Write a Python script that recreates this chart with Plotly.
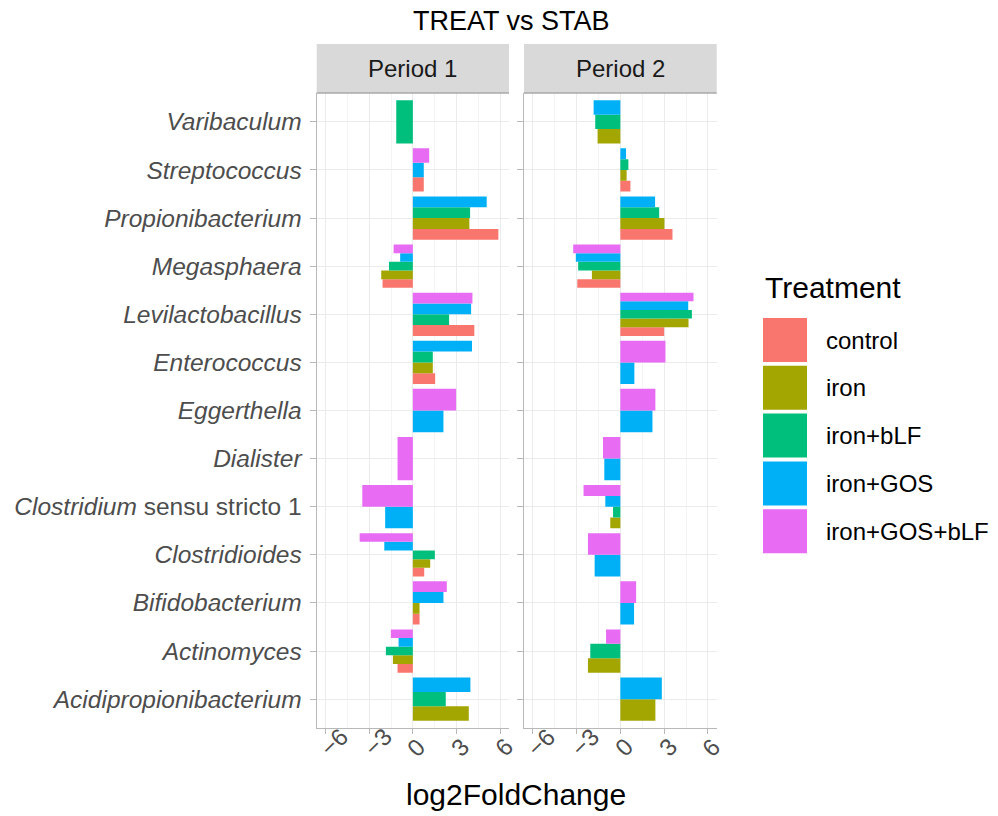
import plotly.graph_objects as go

# Genera from bottom to top of the y axis
genera = [
    "Acidipropionibacterium", "Actinomyces", "Bifidobacterium", "Clostridioides",
    "Clostridium sensu stricto 1", "Dialister", "Eggerthella", "Enterococcus",
    "Levilactobacillus", "Megasphaera", "Propionibacterium", "Streptococcus",
    "Varibaculum",
]
treatments = ["control", "iron", "iron+bLF", "iron+GOS", "iron+GOS+bLF"]
colors = ["#F8766D", "#A3A500", "#00BF7D", "#00B0F6", "#E76BF3"]
periods = ["Period 1", "Period 2"]
x_ticks = [-6, -3, 0, 3, 6]

# log2 fold changes (TREAT vs STAB), None = not significant / absent
p1_control      = [None, -1.05, 0.46, 0.78, None, None, None, 1.53, 4.22, -2.08, 5.87, 0.75, None]
p1_iron         = [3.84, -1.37, 0.46, 1.19, None, None, None, 1.37, None, -2.17, 3.88, None, None]
p1_iron_blf     = [2.26, -1.85, None, 1.51, None, None, None, 1.37, 2.49, -1.64, 3.93, None, -1.14]
p1_iron_gos     = [3.95, -0.98, 2.10, -1.96, -1.90, None, 2.10, 4.06, 4.00, -0.87, 5.07, 0.75, None]
p1_iron_gos_blf = [None, -1.51, 2.33, -3.65, -3.47, -1.05, 2.97, None, 4.09, -1.32, None, 1.12, None]

p2_control      = [None, None, None, None, None, None, None, None, 3.00, -2.95, 3.57, 0.69, None]
p2_iron         = [2.40, -2.22, None, None, -0.69, None, None, None, 4.67, -1.95, 3.02, 0.43, -1.56]
p2_iron_blf     = [None, -2.06, None, None, -0.50, None, None, None, 4.90, -2.89, 2.66, 0.55, -1.72]
p2_iron_gos     = [2.84, None, 0.94, -1.76, -1.03, -1.10, 2.20, 0.96, 4.65, -3.05, 2.38, 0.39, -1.83]
p2_iron_gos_blf = [None, -0.98, 1.08, -2.22, -2.52, -1.19, 2.40, 3.09, 5.01, -3.23, None, None, None]

period_values = [
    [p1_control, p1_iron, p1_iron_blf, p1_iron_gos, p1_iron_gos_blf],
    [p2_control, p2_iron, p2_iron_blf, p2_iron_gos, p2_iron_gos_blf],
]


def genus_label(name):
    if name.endswith("sensu stricto 1"):
        head, tail = name.split(" ", 1)
        return f"<i>{head}</i> {tail}"
    return f"<i>{name}</i>"


FONT = "Liberation Sans, Arial, sans-serif"
W, H = 998, 816
DODGE = 0.9

fig = go.Figure()

# Dodged bars: within each genus the bars present share the full dodge width
for p, series in enumerate(period_values):
    counts = [sum(v[i] is not None for v in series) for i in range(len(genera))]
    slot = [0] * len(genera)
    for t, vals in enumerate(series):
        ys, xs, offs, wids = [], [], [], []
        for i, v in enumerate(vals):
            if v is None:
                continue
            w = DODGE / counts[i]
            ys.append(genera[i])
            xs.append(v)
            offs.append(-DODGE / 2 + slot[i] * w)
            wids.append(w)
            slot[i] += 1
        fig.add_trace(go.Bar(
            x=xs, y=ys, orientation="h", offset=offs, width=wids,
            marker=dict(color=colors[t], line=dict(width=0)),
            name=treatments[t], showlegend=False,
            xaxis="x" if p == 0 else "x2", yaxis="y" if p == 0 else "y2",
        ))

# Panel geometry (pixels)
pan_x = [(316.7, 509.0), (524.0, 716.7)]
pan_top, pan_bot = 93.0, 728.0
strip_top = 44.0


def px(x):
    return x / W


def py(y):
    return 1 - y / H


GRID = "#EBEBEB"
LINE = "#B8B8B8"
axis_common = dict(
    range=[-6.6, 6.6], tickvals=x_ticks, showticklabels=False,
    ticks="outside", ticklen=5, tickwidth=1.3, tickcolor=LINE,
    showline=True, linecolor=LINE, linewidth=1.3, zeroline=False,
    showgrid=True, gridcolor=GRID, gridwidth=1,
    minor=dict(dtick=1.5, tick0=0, showgrid=True, gridcolor="#F4F4F4", gridwidth=1),
    fixedrange=True,
)
yaxis_common = dict(
    type="category", categoryorder="array", categoryarray=genera,
    range=[-0.6, len(genera) - 0.4],
    ticks="outside", ticklen=6, tickwidth=1.3, tickcolor=LINE,
    showline=True, linecolor=LINE, linewidth=1.3,
    showgrid=True, gridcolor=GRID, gridwidth=1, zeroline=False,
    domain=[py(pan_bot), py(pan_top)],
)

fig.update_layout(
    width=W, height=H, margin=dict(l=0, r=0, t=0, b=0),
    paper_bgcolor="white", plot_bgcolor="white",
    barmode="overlay", showlegend=False,
    font=dict(family=FONT, color="#4D4D4D"),
    xaxis=dict(domain=[px(pan_x[0][0]), px(pan_x[0][1])], anchor="y", **axis_common),
    xaxis2=dict(domain=[px(pan_x[1][0]), px(pan_x[1][1])], anchor="y2", **axis_common),
    yaxis=dict(anchor="x", tickvals=genera, ticktext=[genus_label(g) for g in genera],
               ticklabelstandoff=3,
               tickfont=dict(size=24.5, color="#4D4D4D", family=FONT), **yaxis_common),
    yaxis2=dict(anchor="x2", matches="y", showticklabels=False, **yaxis_common),
)

shapes, annotations = [], []

# Facet strips
for p, (x0, x1) in enumerate(pan_x):
    shapes.append(dict(type="rect", xref="paper", yref="paper",
                       x0=px(x0), x1=px(x1), y0=py(pan_top), y1=py(strip_top),
                       fillcolor="#D9D9D9", line=dict(width=0), layer="below"))
    shapes.append(dict(type="line", xref="paper", yref="paper",
                       x0=px(x0), x1=px(x1), y0=py(pan_top), y1=py(pan_top),
                       line=dict(color="#A8A8A8", width=1.3)))
    annotations.append(dict(text=periods[p], xref="paper", yref="paper",
                            x=px((x0 + x1) / 2), y=py((strip_top + pan_top) / 2),
                            xanchor="center", yanchor="middle", showarrow=False,
                            font=dict(size=24, color="#1A1A1A", family=FONT)))
    # rotated x tick labels
    xr = "x" if p == 0 else "x2"
    for v in x_ticks:
        annotations.append(dict(text=str(v).replace("-", "\u2212"), xref=xr, yref="paper",
                                x=v, y=py(764), xanchor="left", yanchor="bottom",
                                xshift=-14, textangle=-45, showarrow=False,
                                font=dict(size=24, color="#4D4D4D", family=FONT)))

# Title and axis title
annotations.append(dict(text="TREAT vs STAB", xref="paper", yref="paper",
                        x=px(511), y=py(21), xanchor="center", yanchor="middle",
                        showarrow=False, font=dict(size=27, color="#000000", family=FONT)))
annotations.append(dict(text="log2FoldChange", xref="paper", yref="paper",
                        x=px(516), y=py(794), xanchor="center", yanchor="middle",
                        showarrow=False, font=dict(size=30, color="#000000", family=FONT)))

# Legend
annotations.append(dict(text="Treatment", xref="paper", yref="paper",
                        x=px(763), y=py(287), xanchor="left", yanchor="middle",
                        showarrow=False, font=dict(size=30, color="#000000", family=FONT)))
key_top, key_pitch, key_size = 318.0, 47.8, 44.0
for t, name in enumerate(treatments):
    y0 = key_top + t * key_pitch
    shapes.append(dict(type="rect", xref="paper", yref="paper",
                       x0=px(763), x1=px(763 + key_size), y0=py(y0 + key_size), y1=py(y0),
                       fillcolor=colors[t], line=dict(width=0)))
    annotations.append(dict(text=name, xref="paper", yref="paper",
                            x=px(824), y=py(y0 + key_size / 2), xanchor="left", yanchor="middle",
                            showarrow=False, font=dict(size=24, color="#000000", family=FONT)))

fig.update_layout(shapes=shapes, annotations=annotations)
fig.write_html("out.html")
